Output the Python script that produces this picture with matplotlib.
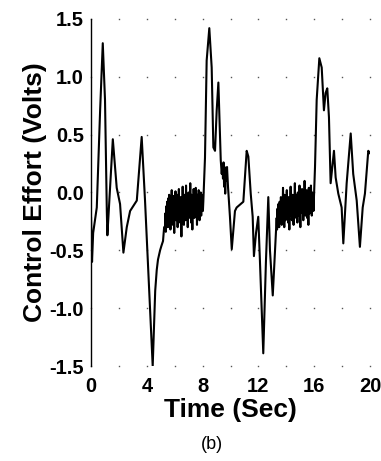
import numpy as np
import matplotlib
matplotlib.use('Agg')
import matplotlib.pyplot as plt

plt.rcParams['font.family'] = ['Liberation Sans', 'DejaVu Sans']

# Main shape of the signal (time in sec, control effort in volts)
t_a = [0.00, 0.07, 0.15, 0.41, 0.65, 0.84, 1.00, 1.13, 1.17, 1.56, 1.84, 2.08,
       2.32, 2.56, 2.80, 3.28, 3.63, 3.87, 4.42, 4.60, 4.71, 4.80, 4.95, 5.05,
       5.16, 5.24]
v_a = [-0.22, -0.60, -0.35, -0.13, 0.71, 1.29, 0.80, -0.16, -0.37, 0.46, 0.04, -0.10,
       -0.52, -0.30, -0.16, -0.07, 0.48, -0.07, -1.50, -0.85, -0.67, -0.58, -0.50, -0.46,
       -0.42, -0.30]

# noisy stretch between 5.3 s and 8.05 s
noise_1 = [-0.30, -0.18, -0.34, -0.12, -0.28, -0.08, -0.22, -0.30, -0.05, -0.20,
           -0.02, -0.25, -0.10, -0.32, -0.04, -0.18, 0.02, -0.22, -0.08, -0.28,
           -0.03, -0.15, -0.35, -0.06, -0.20, 0.01, -0.24, -0.10, -0.18, -0.02,
           -0.30, -0.08, -0.16, 0.03, -0.22, -0.12, -0.26, -0.04, -0.14, -0.38,
           -0.06, -0.20, 0.05, -0.16, -0.10, -0.28, -0.02, -0.18, -0.08, -0.24,
           0.06, -0.12, -0.20, -0.04, -0.30, -0.10, 0.00, -0.22, -0.06, -0.16,
           0.08, -0.14, -0.26, -0.02, -0.12, -0.32, -0.04, -0.18, 0.03, -0.10,
           -0.22, -0.06, -0.14, 0.04, -0.20, -0.08, -0.28, -0.02, -0.12, -0.18,
           0.02, -0.10, -0.24, -0.04, -0.14, 0.00, -0.20, -0.06, -0.12, -0.02,
           -0.16, -0.08]

t_b = [8.17, 8.29, 8.48, 8.65, 8.77, 8.89, 9.01, 9.13, 9.20, 9.30, 9.37,
       9.42, 9.46, 9.50, 9.54, 9.58, 9.62, 9.66, 9.70, 9.75, 9.82,
       9.96, 10.09, 10.32, 10.44, 10.92, 11.16, 11.28, 11.45, 11.59, 11.68,
       11.83, 11.99, 12.11, 12.35, 12.54, 12.71, 12.83, 13.03, 13.19]
v_b = [0.30, 1.14, 1.42, 1.08, 0.39, 0.36, 0.71, 0.95, 0.68, 0.28, 0.16,
       0.24, 0.12, 0.26, 0.05, 0.22, -0.01, 0.20, 0.10, 0.22, 0.05,
       -0.21, -0.49, -0.16, -0.13, -0.08, 0.36, 0.31, -0.01, -0.21, -0.55,
       -0.35, -0.21, -0.59, -1.39, -0.60, -0.04, -0.50, -0.89, -0.50]

# noisy stretch between 13.3 s and 15.95 s
noise_2 = [-0.22, -0.32, -0.14, -0.28, -0.10, -0.24, -0.30, -0.08, -0.20, -0.26,
           -0.04, -0.18, -0.28, -0.06, -0.16, 0.04, -0.22, -0.12, -0.30, -0.02,
           -0.14, -0.24, -0.06, -0.18, 0.02, -0.20, -0.10, -0.26, -0.04, -0.16,
           -0.32, -0.08, -0.14, 0.05, -0.20, -0.06, -0.24, -0.12, -0.02, -0.18,
           -0.28, -0.04, -0.12, 0.08, -0.16, -0.08, -0.22, -0.02, -0.10, -0.26,
           0.00, -0.14, -0.06, -0.20, 0.06, -0.12, -0.30, -0.04, -0.16, -0.08,
           0.03, -0.18, -0.10, -0.24, -0.02, -0.12, 0.10, -0.08, -0.20, -0.04,
           -0.14, 0.02, -0.22, -0.06, -0.12, -0.28, 0.04, -0.10, -0.18, -0.02,
           -0.14, 0.06, -0.08, -0.20, 0.00, -0.12, -0.04, -0.16]

t_c = [16.06, 16.18, 16.37, 16.54, 16.70, 16.82, 16.94, 17.06, 17.18, 17.30,
       17.42, 17.54, 17.73, 17.97, 18.09, 18.33, 18.62, 18.80, 19.05, 19.28,
       19.48, 19.64, 19.88, 20.00]
v_c = [0.22, 0.80, 1.16, 1.08, 0.71, 0.86, 0.90, 0.65, 0.08, 0.22,
       0.36, 0.13, -0.01, -0.13, -0.44, 0.08, 0.51, 0.16, -0.07, -0.47,
       -0.13, -0.01, 0.36, 0.34]

t_n1 = np.linspace(5.30, 8.05, len(noise_1))
t_n2 = np.linspace(13.31, 15.95, len(noise_2))

t = np.concatenate([t_a, t_n1, t_b, t_n2, t_c])
v = np.concatenate([v_a, noise_1, v_b, noise_2, v_c])

fig = plt.figure(figsize=(3.81, 4.61), dpi=100)
ax = fig.add_axes([0.239, 0.206, 0.732, 0.753])

# dotted grid: dots only at the grid crossings
gx, gy = np.meshgrid(np.arange(0, 21, 2), np.arange(-1.5, 1.51, 0.5))
ax.plot(gx.ravel(), gy.ravel(), ls='none', marker='s', ms=1.0, color='#555555',
        mec='none', clip_on=False, zorder=1)

ax.plot(t, v, color='black', lw=1.5, zorder=3)

ax.set_xlim(0, 20)
ax.set_ylim(-1.5, 1.5)
ax.set_xticks([0, 4, 8, 12, 16, 20])
ax.set_yticks([-1.5, -1.0, -0.5, 0.0, 0.5, 1.0, 1.5])
ax.set_yticklabels(['-1.5', '-1.0', '-0.5', '0.0', '0.5', '1.0', '1.5'])
ax.tick_params(axis='both', length=0, labelsize=14.5)
ax.tick_params(axis='x', pad=8)
ax.tick_params(axis='y', pad=5)
for lab in ax.get_xticklabels() + ax.get_yticklabels():
    lab.set_fontweight('bold')

for s in ['top', 'right', 'bottom']:
    ax.spines[s].set_visible(False)
ax.spines['left'].set_linewidth(1.0)

ax.set_xlabel('Time (Sec)', fontsize=19, fontweight='bold', labelpad=1)
ax.set_ylabel('Control Effort (Volts)', fontsize=19, fontweight='bold', labelpad=2)
fig.text(0.557, 0.035, '(b)', ha='center', va='center', fontsize=13)

fig.savefig('out.png', dpi=100)
